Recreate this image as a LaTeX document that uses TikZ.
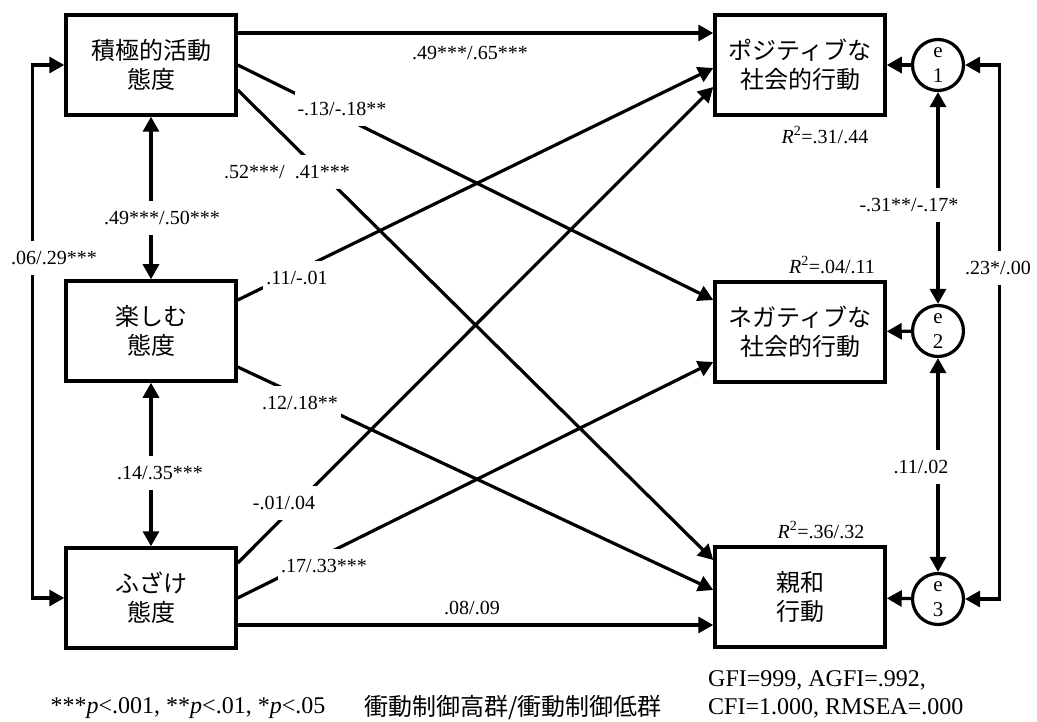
\documentclass[tikz,border=0pt]{standalone}
\usepackage{fontspec}
\setmainfont{Liberation Serif}
\newfontfamily\jpfont{Noto Sans CJK JP}
\usetikzlibrary{arrows.meta}

\begin{document}
\begin{tikzpicture}[x=1pt,y=-1pt,font=\fontsize{20}{24}\selectfont,
  varbox/.style={draw,line width=3.5pt,minimum width=170pt,minimum height=100pt,
    inner sep=0pt,align=center,font=\jpfont\fontsize{24}{29}\selectfont},
  errc/.style={draw,circle,line width=3.2pt,minimum size=51pt,inner sep=0pt,
    align=center,font=\fontsize{21}{25}\selectfont},
  pth/.style={line width=3.2pt,-{Triangle[length=15pt,width=16pt]}},
  both/.style={line width=3.2pt,{Triangle[length=15pt,width=16pt]}-{Triangle[length=15pt,width=16pt]}},
  coef/.style={fill=white,inner xsep=3pt,inner ysep=10pt},
  note/.style={inner sep=0pt,font=\fontsize{24}{28}\selectfont}]
  \useasboundingbox (0,0) rectangle (1037,722);
  \node[varbox] (act) at (151,65) {積極的活動\\態度};
  \node[varbox] (enj) at (151,331) {楽しむ\\態度};
  \node[varbox] (play) at (151,598) {ふざけ\\態度};
  \node[varbox] (pos) at (800,65) {ポジティブな\\社会的行動};
  \node[varbox] (neg) at (800,332) {ネガティブな\\社会的行動};
  \node[varbox] (aff) at (800,597) {親和\\行動};
  \node[errc] (e1) at (938,65) {e\\1};
  \node[errc] (e2) at (938,331) {e\\2};
  \node[errc] (e3) at (938,599) {e\\3};
  \draw[pth] ([yshift=32]act.east) -- ([yshift=32]pos.west);
  \draw[pth] (act.east) -- ([yshift=32]neg.west);
  \draw[pth] ([yshift=-25]act.east) -- ([yshift=37]aff.west);
  \draw[pth] ([yshift=31]enj.east) -- ([yshift=-3]pos.west);
  \draw[pth] ([yshift=-36]enj.east) -- ([yshift=7]aff.west);
  \draw[pth] ([yshift=35]play.east) -- ([yshift=-22]pos.west);
  \draw[pth] (play.east) -- ([yshift=-30]neg.west);
  \draw[pth] ([yshift=-27]play.east) -- ([yshift=-28]aff.west);
  \draw[both] (act) -- (enj);
  \draw[both] (enj) -- (play);
  \draw[both] (act.west) -- ++(-32,0) |- (play.west);
  \draw[both] (e1) -- (e2);
  \draw[both] (e2) -- (e3);
  \draw[both] (e1.east) -- ++(34,0) |- (e3.east);
  \foreach \e/\v in {e1/pos,e2/neg,e3/aff}
    \draw[pth] (\e) -- (\v);
  \node[coef] (c1) at (54,258) {.06/.29***};
  \node[coef] (c2) at (162,218) {.49***/.50***};
  \node[coef] (c3) at (160,473) {.14/.35***};
  \node[coef] (c4) at (909,205) {-.31**/-.17*};
  \node[coef] (c5) at (921,467) {.11/.02};
  \node[coef] (c6) at (998,268) {.23*/.00};
  \node[coef] (c7) at (342,109) {-.13/-.18**};
  \node[coef] (c8) at (287,172) {.52***/\ \ .41***};
  \node[coef] (c9) at (297,278) {.11/-.01};
  \node[coef] (c10) at (300,403) {.12/.18**};
  \node[coef] (c11) at (284,503) {-.01/.04};
  \node[coef] (c12) at (324,566) {.17/.33***};
  \node (c13) at (470,53) {.49***/.65***};
  \node (c14) at (472,608) {.08/.09};
  \node (r1) at (825,135) {\textit{R}\textsuperscript{2}=.31/.44};
  \node (r2) at (832,265) {\textit{R}\textsuperscript{2}=.04/.11};
  \node (r3) at (821,530) {\textit{R}\textsuperscript{2}=.36/.32};
  \node[note] (sig) at (188,708) {***\textit{p}<.001, **\textit{p}<.01, *\textit{p}<.05};
  \node[note,font=\jpfont\fontsize{24}{28}\selectfont] (grp) at (513,708) {衝動制御高群/衝動制御低群};
  \node[note,align=left,anchor=west] (fit) at (708,694) {GFI=999, AGFI=.992,\\CFI=1.000, RMSEA=.000};
\end{tikzpicture}
\end{document}
